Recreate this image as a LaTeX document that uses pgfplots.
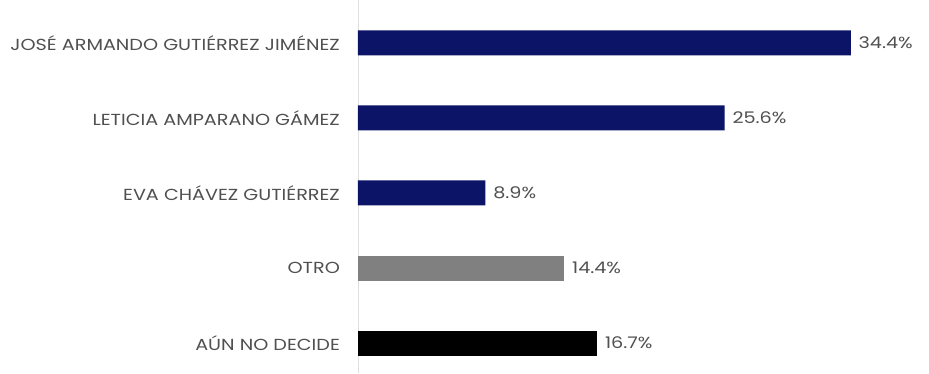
\documentclass[border=0pt]{standalone}
\usepackage{pgfplots}
\pgfplotsset{compat=1.18}
\usepackage{fontspec}
\setmainfont{Poppins}
\definecolor{navy}{HTML}{0B1466}
\definecolor{txt}{HTML}{505050}
\begin{document}
\begin{tikzpicture}
\useasboundingbox (-358pt,0pt) rectangle (571pt,373pt);
\begin{axis}[
  at={(0pt,0pt)}, anchor=south west,
  scale only axis, width=573pt, height=373pt,
  xbar, bar width=25pt, bar shift=0pt,
  xmin=0, xmax=40,
  ymin=-0.573, ymax=4.4, y dir=reverse,
  axis x line=none,
  axis y line*=left,
  y axis line style={draw=gray!25, line width=0.8pt, -},
  ytick={0,1,2,3,4},
  yticklabels={JOSÉ ARMANDO GUTIÉRREZ JIMÉNEZ, LETICIA AMPARANO GÁMEZ, EVA CHÁVEZ GUTIÉRREZ, OTRO, AÚN NO DECIDE},
  ytick style={draw=none},
  yticklabel style={font=\fontsize{16}{18}\selectfont, text=txt, xscale=1.2, xshift=-8pt},
  /pgf/number format/assume math mode=true,
  nodes near coords={\pgfmathprintnumber[fixed,precision=1,fixed zerofill]{\pgfplotspointmeta}\%},
  nodes near coords style={font=\fontsize{16}{18}\selectfont, text=txt, anchor=west, xscale=1.2, xshift=3pt},
  point meta=x,
]
\addplot[fill=navy, draw=none] coordinates {(34.4,0) (25.6,1) (8.9,2)};
\addplot[fill=gray, draw=none] coordinates {(14.4,3)};
\addplot[fill=black, draw=none] coordinates {(16.7,4)};
\end{axis}
\end{tikzpicture}
\end{document}
